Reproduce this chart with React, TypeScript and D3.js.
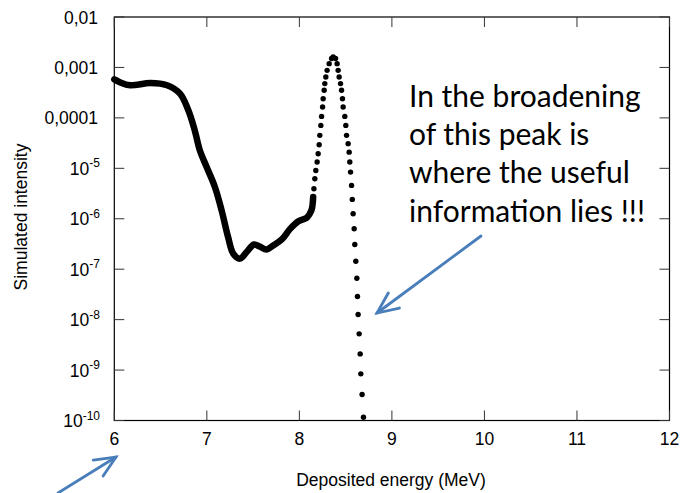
import React from 'react';
import * as d3 from 'd3';

// continuous part of the spectrum (drawn as a thick line of dense points)
const lineEnergy = [6.0, 6.06, 6.17, 6.39, 6.57, 6.71, 6.8, 6.87, 6.925, 6.998, 7.087, 7.16, 7.23, 7.285, 7.357, 7.43, 7.51, 7.57, 7.645, 7.717, 7.81, 7.9, 7.99, 8.08, 8.13, 8.149];
const lineIntensity = [5.81e-4, 5.1e-4, 4.42e-4, 4.9e-4, 4.42e-4, 3.02e-4, 1.41e-4, 5.6e-5, 2.26e-5, 1.06e-5, 4.27e-6, 1.46e-6, 4.3e-7, 2.04e-7, 1.62e-7, 2.19e-7, 3.09e-7, 2.82e-7, 2.45e-7, 2.95e-7, 3.89e-7, 6.3e-7, 8.9e-7, 1.05e-6, 1.46e-6, 2.69e-6];

// the peak, where single points are visible
const peakEnergy = [8.149, 8.157, 8.167, 8.178, 8.192, 8.203, 8.214, 8.221, 8.232, 8.24, 8.251, 8.257, 8.268, 8.275, 8.286, 8.3, 8.322, 8.348, 8.365, 8.391, 8.408, 8.419, 8.43, 8.445, 8.456, 8.466, 8.473, 8.491, 8.502, 8.51, 8.527, 8.538, 8.545, 8.553, 8.564, 8.572, 8.581, 8.592, 8.599, 8.61, 8.621, 8.628, 8.635, 8.646, 8.657, 8.664, 8.678, 8.693];
const peakIntensity = [2.69e-6, 3.94e-6, 6.22e-6, 9.08e-6, 1.33e-5, 1.95e-5, 2.94e-5, 4.5e-5, 7.1e-5, 1.07e-4, 1.64e-4, 2.4e-4, 3.52e-4, 4.78e-4, 6.46e-4, 8.75e-4, 1.19e-3, 1.5e-3, 1.61e-3, 1.5e-3, 1.19e-3, 8.75e-4, 6.46e-4, 4.78e-4, 3.52e-4, 2.4e-4, 1.64e-4, 1.07e-4, 7.1e-5, 4.5e-5, 3.08e-5, 2.09e-5, 1.33e-5, 8.41e-6, 4.58e-6, 2.42e-6, 1.26e-6, 6.34e-7, 3.09e-7, 1.44e-7, 6.62e-8, 2.87e-8, 1.26e-8, 5.22e-9, 2.09e-9, 8.41e-10, 3.27e-10, 1.16e-10];

const xTicks = [6, 7, 8, 9, 10, 11, 12];
const yTicks = [1e-2, 1e-3, 1e-4, 1e-5, 1e-6, 1e-7, 1e-8, 1e-9, 1e-10];
const yTickBase = ['0,01', '0,001', '0,0001', '10', '10', '10', '10', '10', '10'];
const yTickExp = ['', '', '', '-5', '-6', '-7', '-8', '-9', '-10'];

const noteLines = ['In the broadening', 'of this peak is', 'where the useful', 'information lies !!!'];

const W = 681;
const H = 493;
const left = 114.3, right = 669.5, top = 17, bottom = 420.5;
const tickLen = 10;
const arrowColor = '#4a7ebb';
const axisFont = '"Liberation Sans", Arial, sans-serif';

const Arrow = ({ x1, y1, x2, y2 }: { x1: number; y1: number; x2: number; y2: number }) => {
  const a = Math.atan2(y2 - y1, x2 - x1);
  const len = 23, spread = 0.42;
  const w1 = [x2 - len * Math.cos(a - spread), y2 - len * Math.sin(a - spread)];
  const w2 = [x2 - len * Math.cos(a + spread), y2 - len * Math.sin(a + spread)];
  return (
    <g stroke={arrowColor} strokeWidth={2.8} fill="none" strokeLinecap="round">
      <line x1={x1} y1={y1} x2={x2} y2={y2} />
      <polyline points={`${w1[0]},${w1[1]} ${x2},${y2} ${w2[0]},${w2[1]}`} strokeLinejoin="miter" />
    </g>
  );
};

export default function App() {
  const x = d3.scaleLinear().domain([6, 12]).range([left, right]);
  const y = d3.scaleLog().domain([1e-10, 1e-2]).range([bottom, top]);

  const linePts = lineEnergy.map((e, i) => [e, lineIntensity[i]] as [number, number]);
  const path = d3.line<[number, number]>()
    .x(d => x(d[0]))
    .y(d => y(d[1]))
    .curve(d3.curveCatmullRom.alpha(0.5))(linePts) || '';

  return (
    <svg width={W} height={H} style={{ position: 'absolute', left: 0, top: 0, background: '#fff' }}>
      {/* frame */}
      <rect x={left} y={top} width={right - left} height={bottom - top} fill="none" stroke="#000" strokeWidth={1.2} />
      {/* x ticks */}
      {xTicks.map(t => (
        <g key={'x' + t}>
          <line x1={x(t)} x2={x(t)} y1={bottom} y2={bottom - tickLen} stroke="#333" />
          <line x1={x(t)} x2={x(t)} y1={top} y2={top + tickLen} stroke="#333" />
          <text x={x(t)} y={445} textAnchor="middle" fontFamily={axisFont} fontSize={17.5} fill="#000">{t}</text>
        </g>
      ))}
      {/* y ticks */}
      {yTicks.map((t, i) => (
        <g key={'y' + i}>
          <line x1={left} x2={left + tickLen} y1={y(t)} y2={y(t)} stroke="#333" />
          <line x1={right} x2={right - tickLen} y1={y(t)} y2={y(t)} stroke="#333" />
          <text x={yTickExp[i] ? 100 : 98} y={y(t) + 6.5} textAnchor="end" fontFamily={axisFont} fontSize={17.5} fill="#000">
            {yTickBase[i]}
            {yTickExp[i] && <tspan fontSize={12} dy={-7.5}>{yTickExp[i]}</tspan>}
          </text>
        </g>
      ))}
      {/* axis titles */}
      <text x={391} y={486} textAnchor="middle" fontFamily={axisFont} fontSize={17.5} fill="#000">
        Deposited energy (MeV)
      </text>
      <text transform={`translate(27,217) rotate(-90)`} textAnchor="middle" fontFamily={axisFont} fontSize={17.5} fill="#000">
        Simulated intensity
      </text>
      {/* data */}
      <path d={path} fill="none" stroke="#000" strokeWidth={6.5} strokeLinecap="round" strokeLinejoin="round" />
      {peakEnergy.map((e, i) => (
        <circle key={'p' + i} cx={x(e)} cy={y(peakIntensity[i])} r={2.7} fill="#000" />
      ))}
      {/* annotation */}
      <text fontFamily='Lato, "Open Sans", sans-serif' fontSize={30} fill="#000">
        {noteLines.map((l, i) => (
          <tspan key={i} x={409} y={106.7 + i * 38.3}>{l}</tspan>
        ))}
      </text>
      <Arrow x1={481} y1={236} x2={377} y2={313} />
      <Arrow x1={58} y1={493} x2={116} y2={457} />
    </svg>
  );
}
